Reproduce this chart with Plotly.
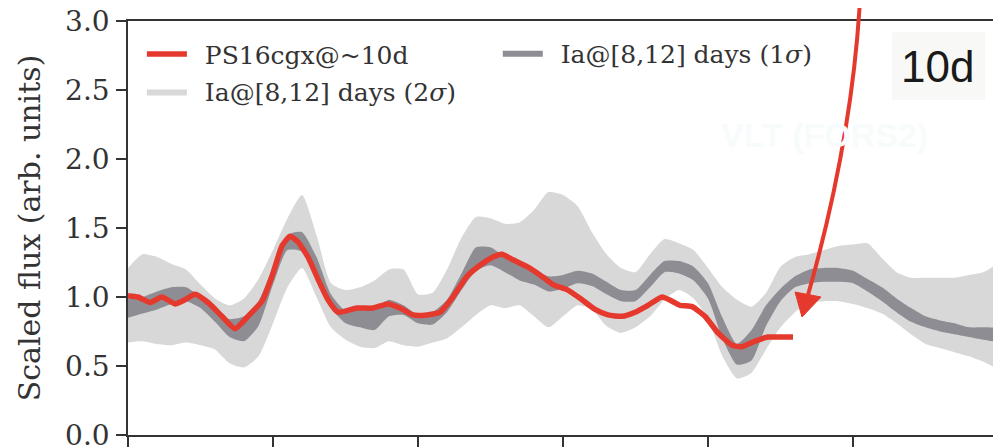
import plotly.graph_objects as go

# Wavelength grid (Angstrom) for the template bands
wave = [4000, 4100, 4200, 4300, 4400, 4500, 4600, 4700, 4800, 4900,
        5000, 5100, 5200, 5300, 5400, 5500, 5600, 5700, 5800, 5900,
        6000, 6100, 6200, 6300, 6400, 6500, 6600, 6700, 6800, 6900,
        7000, 7100, 7200, 7300, 7400, 7500, 7600, 7700, 7800, 7900,
        8000, 8100, 8200, 8300, 8400, 8500, 8600, 8700, 8800, 8900,
        9000, 9100, 9200, 9300, 9400, 9500, 9600, 9700, 9800, 9900, 10000]

# Ia@[8,12] days, 2 sigma band
ia2_upper = [1.21, 1.31, 1.29, 1.24, 1.20, 1.09, 0.99, 0.94, 0.99, 1.13,
             1.34, 1.57, 1.74, 1.45, 1.10, 1.05, 1.07, 1.12, 1.20, 1.20,
             1.02, 1.03, 1.20, 1.43, 1.58, 1.57, 1.53, 1.54, 1.63, 1.76,
             1.74, 1.66, 1.47, 1.31, 1.21, 1.18, 1.31, 1.42, 1.39, 1.34,
             1.21, 1.07, 0.98, 0.93, 1.03, 1.22, 1.29, 1.31, 1.34, 1.37,
             1.38, 1.39, 1.28, 1.18, 1.14, 1.14, 1.14, 1.14, 1.16, 1.18, 1.23]
ia2_lower = [0.67, 0.68, 0.66, 0.65, 0.67, 0.65, 0.62, 0.52, 0.49, 0.57,
             0.81, 1.07, 1.21, 1.00, 0.78, 0.69, 0.64, 0.63, 0.68, 0.65,
             0.64, 0.67, 0.70, 0.78, 0.87, 0.94, 0.92, 0.94, 0.86, 0.78,
             0.86, 0.94, 0.91, 0.79, 0.74, 0.78, 0.86, 0.98, 1.05, 0.99,
             0.84, 0.57, 0.41, 0.45, 0.62, 0.78, 0.89, 0.96, 0.97, 0.97,
             0.95, 0.92, 0.88, 0.81, 0.73, 0.66, 0.63, 0.60, 0.57, 0.53, 0.49]

# Ia@[8,12] days, 1 sigma band
ia1_upper = [0.99, 1.00, 1.04, 1.07, 1.07, 1.00, 0.91, 0.84, 0.86, 0.97,
             1.22, 1.45, 1.47, 1.29, 1.02, 0.90, 0.91, 0.92, 0.98, 0.94,
             0.87, 0.89, 0.98, 1.17, 1.36, 1.36, 1.29, 1.23, 1.20, 1.15,
             1.16, 1.19, 1.17, 1.11, 1.05, 1.05, 1.16, 1.26, 1.26, 1.22,
             1.10, 0.85, 0.66, 0.76, 0.94, 1.06, 1.15, 1.20, 1.21, 1.21,
             1.19, 1.13, 1.07, 0.99, 0.92, 0.86, 0.83, 0.81, 0.78, 0.78, 0.77]
ia1_lower = [0.85, 0.88, 0.91, 0.95, 0.97, 0.92, 0.82, 0.71, 0.68, 0.79,
             1.09, 1.34, 1.33, 1.15, 0.92, 0.81, 0.78, 0.76, 0.86, 0.87,
             0.81, 0.80, 0.89, 1.05, 1.19, 1.23, 1.18, 1.12, 1.09, 1.04,
             1.06, 1.10, 1.08, 1.02, 0.97, 0.97, 1.07, 1.18, 1.17, 1.12,
             0.99, 0.70, 0.51, 0.54, 0.79, 0.97, 1.07, 1.10, 1.11, 1.11,
             1.10, 1.04, 0.97, 0.89, 0.82, 0.78, 0.75, 0.73, 0.71, 0.69, 0.68]

# PS16cgx spectrum at ~10 d
ps_wave = [4000, 4069, 4152, 4234, 4324, 4393, 4462, 4552, 4648, 4738,
           4828, 4924, 4993, 5062, 5117, 5172, 5241, 5310, 5379, 5448,
           5579, 5690, 5793, 5876, 5966, 6062, 6152, 6241, 6338, 6428,
           6517, 6579, 6655, 6752, 6841, 6931, 7034, 7131, 7221, 7310,
           7407, 7497, 7586, 7683, 7752, 7807, 7890, 7979, 8069, 8166,
           8234, 8324, 8414, 8497, 8586]
ps_flux = [1.01, 1.00, 0.96, 1.00, 0.95, 0.98, 1.02, 0.96, 0.86, 0.77,
           0.86, 0.97, 1.15, 1.37, 1.44, 1.40, 1.29, 1.13, 0.98, 0.89,
           0.92, 0.92, 0.95, 0.92, 0.87, 0.87, 0.89, 1.00, 1.15, 1.23,
           1.29, 1.31, 1.27, 1.22, 1.16, 1.09, 1.05, 0.98, 0.91, 0.87,
           0.86, 0.89, 0.94, 1.00, 0.97, 0.94, 0.93, 0.86, 0.74, 0.65,
           0.64, 0.68, 0.71, 0.71, 0.71]

x_ticks = [4000, 5000, 6000, 7000, 8000, 9000, 10000]
y_ticks = [0.0, 0.5, 1.0, 1.5, 2.0, 2.5, 3.0]
y_ticktext = ["0.0", "0.5", "1.0", "1.5", "2.0", "2.5", "3.0"]

RED = "#e5392e"
LIGHT = "#d8d8d9"
DARK = "#8e8d94"
SERIF = "DejaVu Serif"
INK = "#333333"
GAP = "\u00a0\u2009"

fig = go.Figure()

fig.add_trace(go.Scatter(
    x=wave + wave[::-1], y=ia2_upper + ia2_lower[::-1],
    fill="toself", fillcolor=LIGHT,
    line=dict(width=0, color=LIGHT, shape="spline", smoothing=0.6),
    mode="lines", name=GAP + "Ia@[8,12] days (2<i>σ</i>)",
    legend="legend", legendgroup="b", legendrank=2, hoverinfo="skip"))
fig.add_trace(go.Scatter(
    x=wave + wave[::-1], y=ia1_upper + ia1_lower[::-1],
    fill="toself", fillcolor=DARK,
    line=dict(width=0, color=DARK, shape="spline", smoothing=0.6),
    mode="lines", name=GAP + "Ia@[8,12] days (1<i>σ</i>)",
    legend="legend2", legendgroup="c", legendrank=3, hoverinfo="skip"))
fig.add_trace(go.Scatter(
    x=ps_wave, y=ps_flux, mode="lines",
    line=dict(color=RED, width=5.5, shape="spline", smoothing=0.5),
    name=GAP + "PS16cgx@~10d", legend="legend", legendgroup="a",
    legendrank=1))

legend_common = dict(
    orientation="v", yanchor="top", xanchor="left",
    bgcolor="rgba(0,0,0,0)", font=dict(family=SERIF, size=25, color=INK),
    itemwidth=40, tracegroupgap=2, traceorder="grouped",
)

# The page body adds an 8px offset; the figure is sized so the plot area
# lands at x 128-998, y 21-435 of the 1001x447 window.
fig.update_layout(
    width=993, height=439,
    margin=dict(l=120, r=3, t=13, b=12, autoexpand=False),
    paper_bgcolor="white", plot_bgcolor="white",
    font=dict(family=SERIF, size=24, color=INK),
    showlegend=True,
    legend=dict(x=0.016, y=0.975, **legend_common),
    legend2=dict(x=0.425, y=0.978, **legend_common),
    xaxis=dict(
        range=[4000, 10000], tickvals=x_ticks, showticklabels=False,
        ticks="outside", ticklen=12, tickwidth=1.5, tickcolor=INK,
        showline=True, linecolor=INK, linewidth=1.5, mirror=True,
        showgrid=False, zeroline=False, automargin=False,
    ),
    yaxis=dict(
        range=[0, 3.0], tickvals=y_ticks, ticktext=y_ticktext,
        ticks="outside", ticklen=10, tickwidth=1.5, tickcolor=INK,
        ticklabelstandoff=1, automargin=False, ticklabeloverflow="allow",
        showline=True, linecolor=INK, linewidth=1.5, mirror=True,
        showgrid=False, zeroline=False,
        title=dict(text="Scaled flux (arb. units)", standoff=16,
                   font=dict(family=SERIF, size=30, color=INK)),
        tickfont=dict(family=SERIF, size=28, color=INK),
    ),
)

# "10d" label box
fig.add_shape(type="rect", xref="paper", yref="paper",
              x0=0.878, x1=0.985, y0=0.809, y1=0.973,
              fillcolor="#f8f9f6", line=dict(width=0), layer="above")
fig.add_annotation(xref="paper", yref="paper", x=0.931, y=0.889,
                   xanchor="center", yanchor="middle",
                   text="10d", showarrow=False,
                   font=dict(family="Liberation Sans", size=44, color="#1a1a1a"))

# faint instrument label
fig.add_annotation(xref="paper", yref="paper", x=0.80, y=0.725,
                   xanchor="center", yanchor="middle",
                   text="<b>VLT (FORS2)</b>", showarrow=False,
                   font=dict(family="Liberation Sans", size=34, color="#f7fbfc"))

# curved red arrow pointing into the plot
fig.add_shape(type="path", xref="paper", yref="paper",
              path="M 0.8414 1.0507 Q 0.8322 0.7126 0.7816 0.3382",
              line=dict(color=RED, width=4), layer="above")
fig.add_shape(type="path", xref="paper", yref="paper",
              path="M 0.7667 0.3454 L 0.7966 0.3333 L 0.7747 0.2850 Z",
              fillcolor=RED, line=dict(color=RED, width=1), layer="above")

fig.write_html("out.html")
